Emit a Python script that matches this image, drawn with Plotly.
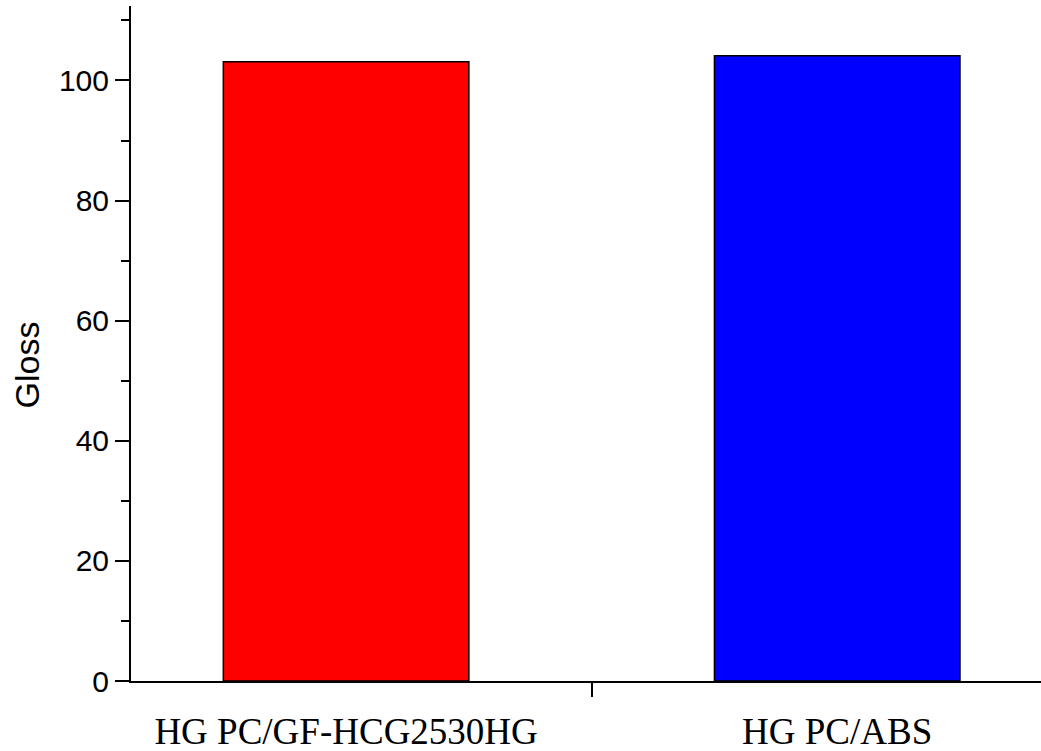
import plotly.graph_objects as go

categories = ["HG PC/GF-HCG2530HG", "HG PC/ABS"]
gloss = [103.1, 104.1]
bar_colors = ["#FF0000", "#0000FF"]
y_ticks = [0, 20, 40, 60, 80, 100]

fig = go.Figure()
fig.add_trace(go.Bar(
    x=categories, y=gloss, width=0.5,
    marker=dict(color=bar_colors, line=dict(color="black", width=1.5)),
))

fig.update_layout(
    width=1041, height=751,
    margin=dict(l=131, r=0, t=6, b=70, autoexpand=False),
    paper_bgcolor="white", plot_bgcolor="white",
    showlegend=False,
    font=dict(family="Liberation Sans, Arial", color="black"),
    xaxis=dict(
        type="category", range=[-0.438, 1.415], automargin=False,
        showline=True, linecolor="black", linewidth=2,
        ticks="outside", tickson="boundaries", ticklen=14, tickwidth=2, tickcolor="black",
        tickfont=dict(family="Liberation Serif, Times New Roman", size=37),
        ticklabelstandoff=17,
        showgrid=False, zeroline=False,
    ),
    yaxis=dict(
        range=[0, 112.4], tickvals=y_ticks, automargin=False,
        showline=True, linecolor="black", linewidth=2,
        ticks="outside", ticklen=14, tickwidth=2, tickcolor="black",
        minor=dict(dtick=10, ticks="outside", ticklen=8, tickwidth=2, tickcolor="black", showgrid=False),
        tickfont=dict(family="Liberation Sans, Arial", size=30),
        showgrid=False, zeroline=False,
    ),
    annotations=[dict(
        text="Gloss", textangle=-90, showarrow=False,
        xref="paper", yref="paper", x=0, y=0.4674, xanchor="center", yanchor="middle",
        xshift=-104, font=dict(family="Liberation Sans, Arial", size=34, color="black"),
    )],
)

fig.write_html(
    "out.html",
    config={"displayModeBar": False},
    post_script="document.body.style.margin='0';document.body.style.overflow='hidden';",
)
